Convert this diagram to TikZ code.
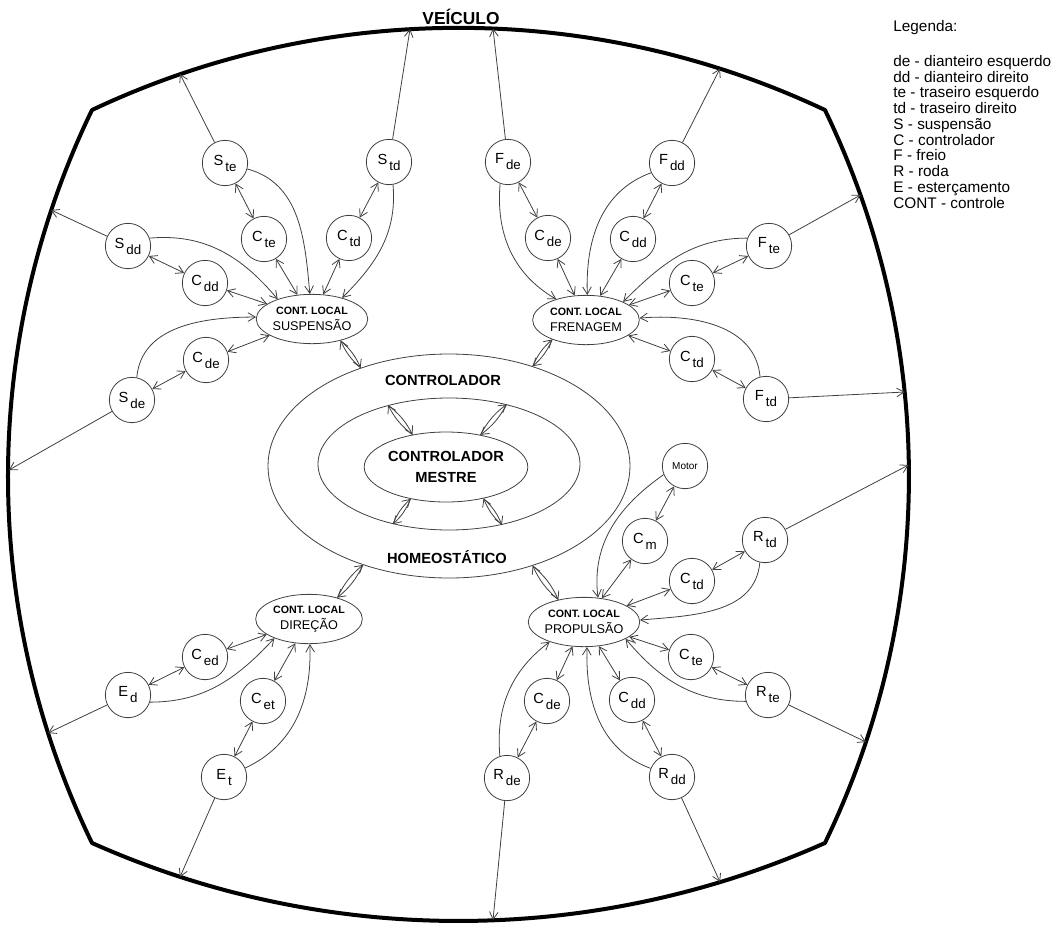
\documentclass[tikz,border=0pt]{standalone}
\usepackage{fontspec}
\setmainfont{Liberation Sans}
\usetikzlibrary{arrows.meta,shapes.geometric}

\newcommand{\rotulo}[2]{#1\raisebox{-4.5pt}{\hspace{1.5pt}\fontsize{10}{10}\selectfont #2}}
\newcommand{\contlocal}[1]{{\bfseries\fontsize{8}{9}\selectfont CONT. LOCAL}\\#1}
\newcommand{\lente}[2]{%
  \draw[seta] (#1) to[bend left=12] (#2);
  \draw[seta] (#2) to[bend left=12] (#1);}

\tikzset{
  roda/.style={circle,draw=black!75,line width=0.6pt,minimum size=34pt,inner sep=0pt,font=\fontsize{11}{11}\selectfont},
  controle/.style={ellipse,draw=black!75,line width=0.6pt,minimum width=80pt,minimum height=37pt,inner sep=0pt,align=center,font=\fontsize{9.5}{12}\selectfont},
  anel/.style={ellipse,draw=black!75,line width=0.6pt,inner sep=0pt},
  borda/.style={line width=3pt,line join=round},
  seta/.style={->,draw=black!75},
  dupla/.style={<->,draw=black!75},
}

\begin{document}
\begin{tikzpicture}[x=0.75pt,y=-0.75pt,line width=0.6pt,>={Straight Barb[length=5.5pt,width=6.5pt]}]
\useasboundingbox (0,0) rectangle (1057,925);

% contorno do veiculo
\draw[borda] (92,110) arc[start angle=-115.28,end angle=-64.72,radius=858.2]
  arc[start angle=-25.82,end angle=25.82,radius=841.5]
  arc[start angle=65.97,end angle=114.03,radius=900]
  arc[start angle=154.18,end angle=205.82,radius=841.5] -- cycle;
\node[font=\bfseries\fontsize{13}{13}\selectfont,anchor=base] (veiculo) at (461,24) {VEÍCULO};

% pontos na borda
\coordinate (bSte) at (180,74);
\coordinate (bStd) at (410,29);
\coordinate (bSdd) at (51,210);
\coordinate (bSde) at (9,470);
\coordinate (bFde) at (493,28.5);
\coordinate (bFdd) at (720,68.6);
\coordinate (bFte) at (860.5,195);
\coordinate (bFtd) at (904.8,392);
\coordinate (bRtd) at (908.5,465);
\coordinate (bRte) at (866,742);
\coordinate (bRdd) at (720,882);
\coordinate (bRde) at (493,920);
\coordinate (bEt) at (180,877);
\coordinate (bEd) at (48,733);

% controlador homeostatico
\node[anel,minimum width=271.5pt,minimum height=168pt] (homeo) at (449,466) {};
\node[anel,minimum width=196.5pt,minimum height=99pt] (meio) at (449,464) {};
\node[anel,minimum width=121.5pt,minimum height=52.5pt,align=center,font=\bfseries\fontsize{11}{16}\selectfont] (mestre) at (446,467) {CONTROLADOR\\MESTRE};
\node[font=\bfseries\fontsize{11}{11}\selectfont] (tcontrol) at (443,380) {CONTROLADOR};
\node[font=\bfseries\fontsize{11}{11}\selectfont] (thomeo) at (447,557) {HOMEOSTÁTICO};
\lente{meio.136}{mestre.136}
\lente{meio.46}{mestre.43}
\lente{meio.227}{mestre.222}
\lente{meio.-49}{mestre.-40}

% suspensao
\node[controle] (susp) at (312,319) {\contlocal{SUSPENSÃO}};
\node[roda] (Ste) at (225,163) {\rotulo{S}{te}};
\node[roda] (Std) at (389,162) {\rotulo{S}{td}};
\node[roda] (Sdd) at (128,246) {\rotulo{S}{dd}};
\node[roda] (Sde) at (132,400) {\rotulo{S}{de}};
\node[roda] (cSte) at (264,239) {\rotulo{C}{te}};
\node[roda] (cStd) at (349,238) {\rotulo{C}{td}};
\node[roda] (cSdd) at (205,283) {\rotulo{C}{dd}};
\node[roda] (cSde) at (206,360) {\rotulo{C}{de}};
\draw[seta] (Ste) -- (bSte);
\draw[dupla] (Ste) -- (cSte);
\draw[dupla] (cSte) -- (susp);
\draw[seta] (Ste) to[out=-15,in=95] (susp.95);
\draw[seta] (Std) -- (bStd);
\draw[dupla] (Std) -- (cStd);
\draw[dupla] (cStd) -- (susp);
\draw[seta] (Std.-80) to[out=-85,in=45] (susp.35);
\draw[seta] (Sdd) -- (bSdd);
\draw[dupla] (Sdd) -- (cSdd);
\draw[dupla] (cSdd) -- (susp);
\draw[seta] (Sdd.20) to[out=5,in=130] (susp.150);
\draw[seta] (Sde) -- (bSde);
\draw[dupla] (Sde) -- (cSde);
\draw[dupla] (cSde) -- (susp);
\draw[seta] (Sde.78) to[out=85,in=180] (susp.178);
\lente{susp.-37}{homeo.132}

% frenagem
\node[controle] (fren) at (586,320) {\contlocal{FRENAGEM}};
\node[roda] (Fde) at (508,162) {\rotulo{F}{de}};
\node[roda] (Fdd) at (672,163) {\rotulo{F}{dd}};
\node[roda] (Fte) at (769,246) {\rotulo{F}{te}};
\node[roda] (Ftd) at (766,399) {\rotulo{F}{td}};
\node[roda] (cFde) at (548,238) {\rotulo{C}{de}};
\node[roda] (cFdd) at (633,239) {\rotulo{C}{dd}};
\node[roda] (cFte) at (692,283) {\rotulo{C}{te}};
\node[roda] (cFtd) at (692,359) {\rotulo{C}{td}};
\draw[seta] (Fde) -- (bFde);
\draw[dupla] (Fde) -- (cFde);
\draw[dupla] (cFde) -- (fren);
\draw[seta] (Fde.250) to[out=-95,in=150] (fren.145);
\draw[seta] (Fdd) -- (bFdd);
\draw[dupla] (Fdd) -- (cFdd);
\draw[dupla] (cFdd) -- (fren);
\draw[seta] (Fdd.205) to[out=200,in=92] (fren.87);
\draw[seta] (Fte) -- (bFte);
\draw[dupla] (Fte) -- (cFte);
\draw[dupla] (cFte) -- (fren);
\draw[seta] (Fte.160) to[out=180,in=45] (fren.26);
\draw[seta] (Ftd) -- (bFtd);
\draw[dupla] (Ftd) -- (cFtd);
\draw[dupla] (cFtd) -- (fren);
\draw[seta] (Ftd.105) to[out=95,in=5] (fren.2);
\lente{fren.210}{homeo.50}

% direcao
\node[controle] (dir) at (309,619) {\contlocal{DIREÇÃO}};
\node[roda] (Ed) at (128,695) {\rotulo{E}{d}};
\node[roda] (Et) at (224,777) {\rotulo{E}{t}};
\node[roda] (cEd) at (205,657) {\rotulo{C}{ed}};
\node[roda] (cEt) at (263,701) {\rotulo{C}{et}};
\draw[seta] (Ed) -- (bEd);
\draw[dupla] (Ed) -- (cEd);
\draw[dupla] (cEd) -- (dir);
\draw[seta] (Ed.-18) to[out=0,in=227] (dir.209);
\draw[seta] (Et) -- (bEt);
\draw[dupla] (Et) -- (cEt);
\draw[dupla] (cEt) -- (dir);
\draw[seta] (Et.23) to[out=25,in=-88] (dir.-88);
\lente{dir.37}{homeo.229}

% propulsao
\node[controle] (prop) at (584,622) {\contlocal{PROPULSÃO}};
\node[roda,font=\fontsize{7.5}{7.5}\selectfont] (motor) at (685,466) {Motor};
\node[roda] (Rtd) at (765,540) {\rotulo{R}{td}};
\node[roda] (Rte) at (768,695) {\rotulo{R}{te}};
\node[roda] (Rdd) at (672,777) {\rotulo{R}{dd}};
\node[roda] (Rde) at (507,778) {\rotulo{R}{de}};
\node[roda] (cM) at (645,541) {\rotulo{C}{m}};
\node[roda] (cRtd) at (692,581) {\rotulo{C}{td}};
\node[roda] (cRte) at (691,657) {\rotulo{C}{te}};
\node[roda] (cRdd) at (632,700) {\rotulo{C}{dd}};
\node[roda] (cRde) at (547,701) {\rotulo{C}{de}};
\draw[dupla] (motor) -- (cM);
\draw[dupla] (cM) -- (prop);
\draw[seta] (motor.202) to[out=215,in=97] (prop.60);
\draw[seta] (Rtd) -- (bRtd);
\draw[dupla] (Rtd) -- (cRtd);
\draw[dupla] (cRtd) -- (prop);
\draw[seta] (Rtd.257) to[out=-95,in=5] (prop.2);
\draw[seta] (Rte) -- (bRte);
\draw[dupla] (Rte) -- (cRte);
\draw[dupla] (cRte) -- (prop);
\draw[seta] (Rte.196) to[out=180,in=-50] (prop.-22);
\draw[seta] (Rdd) -- (bRdd);
\draw[dupla] (Rdd) -- (cRdd);
\draw[dupla] (cRdd) -- (prop);
\draw[seta] (Rdd.158) to[out=160,in=-92] (prop.-83);
\draw[seta] (Rde) -- (bRde);
\draw[dupla] (Rde) -- (cRde);
\draw[dupla] (cRde) -- (prop);
\draw[seta] (Rde.108) to[out=95,in=217] (prop.210);
\lente{prop.139}{homeo.-50}

% legenda
\node[anchor=north west,inner sep=0pt,font=\fontsize{11.5}{11.8}\selectfont] (legtit) at (893,20) {Legenda:};
\node[anchor=north west,inner sep=0pt,align=left,font=\fontsize{11.5}{11.8}\selectfont] (legitens) at (893,55)
  {de - dianteiro esquerdo\\dd - dianteiro direito\\te - traseiro esquerdo\\td - traseiro direito\\S - suspensão\\C - controlador\\F - freio\\R - roda\\E - esterçamento\\CONT - controle};
\end{tikzpicture}
\end{document}
